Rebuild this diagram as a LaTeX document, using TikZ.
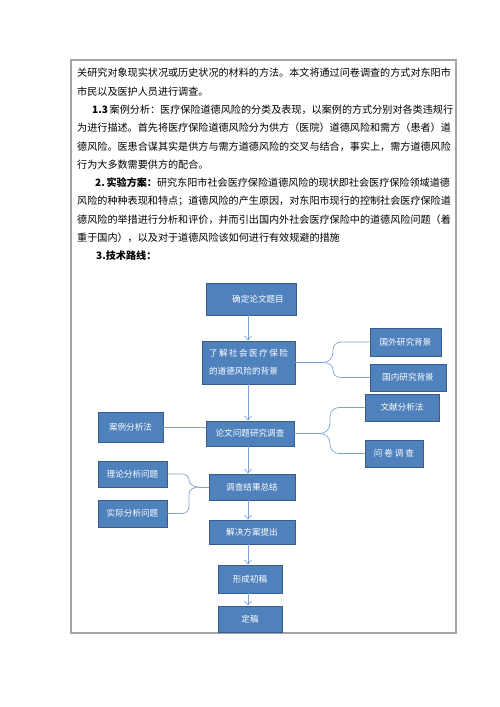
\documentclass[tikz,border=0pt]{standalone}
\usepackage{fontspec}
\newfontfamily\cjk{Noto Sans CJK SC}
\usepackage{tikz}
\usetikzlibrary{arrows.meta}

\definecolor{boxblue}{RGB}{79,129,189}
\definecolor{boxedge}{RGB}{56,93,138}
\definecolor{linkblue}{RGB}{125,163,212}
\definecolor{framegray}{RGB}{165,165,165}

\tikzset{
  bodyline/.style={anchor=base west, inner sep=0pt, font=\cjk\fontsize{10.1}{18}\selectfont},
  flowbox/.style={draw=boxedge, line width=0.8pt, fill=boxblue, text=white, inner sep=1pt, font=\cjk\fontsize{8.6}{18}\selectfont},
  link/.style={draw=linkblue, line width=0.7pt},
  flowarrow/.style={link, -{Straight Barb[length=4pt,width=7pt]}}
}

\begin{document}
\begin{tikzpicture}[x=1pt,y=-1pt]
            \useasboundingbox (0,0) rectangle (500,707);
            \draw[framegray, line width=1.2pt] (71,60) rectangle (456,633);
            % text above the chart
            \node[bodyline] (line1) at (77,76.8) {关研究对象现实状况或历史状况的材料的方法。本文将通过问卷调查的方式对东阳市};
            \node[bodyline] (line2) at (77,95.1) {市民以及医护人员进行调查。};
            \node[bodyline] (line3) at (92,113.4) {\textbf{1.3}\,案例分析：医疗保险道德风险的分类及表现，以案例的方式分别对各类违规行};
            \node[bodyline] (line4) at (77,131.7) {为进行描述。首先将医疗保险道德风险分为供方（医院）道德风险和需方（患者）道};
            \node[bodyline] (line5) at (77,150) {德风险。医患合谋其实是供方与需方道德风险的交叉与结合，事实上，需方道德风险};
            \node[bodyline] (line6) at (77,168.3) {行为大多数需要供方的配合。};
            \node[bodyline] (line7) at (95,186.6) {\textbf{2.\,实验方案：}研究东阳市社会医疗保险道德风险的现状即社会医疗保险领域道德};
            \node[bodyline] (line8) at (77,204.9) {风险的种种表现和特点；道德风险的产生原因，对东阳市现行的控制社会医疗保险道};
            \node[bodyline] (line9) at (77,223.2) {德风险的举措进行分析和评价，并而引出国内外社会医疗保险中的道德风险问题（着};
            \node[bodyline] (line10) at (77,241.5) {重于国内），以及对于道德风险该如何进行有效规避的措施};
            \node[bodyline] (line11) at (96,259.8) {\textbf{3.技术路线：}};
            % flow chart
            \coordinate (spine) at (248,0);
            \node[flowbox, minimum width=90pt, minimum height=32pt] (topic) at (251,299) {\hspace{14pt}确定论文题目};
            \node[flowbox, minimum width=93pt, minimum height=43pt, align=left] (background) at (248.5,362.5) {了\,解\,社\,会\,医\,疗\,保\,险\\的道德风险的背景};
            \node[flowbox, minimum width=71pt, minimum height=28pt] (abroad) at (405.5,342) {国外研究背景};
            \node[flowbox, minimum width=76pt, minimum height=27pt] (domestic) at (408,377.5) {国内研究背景};
            \node[flowbox, minimum width=74pt, minimum height=27pt] (literature) at (402,407.5) {文献分析法};
            \node[flowbox, minimum width=88pt, minimum height=25pt] (survey) at (250,433.5) {论文问题研究调查};
            \node[flowbox, minimum width=65pt, minimum height=30pt] (cases) at (130.5,427) {案例分析法};
            \node[flowbox, minimum width=58pt, minimum height=27pt] (questionnaire) at (394,453.5) {问\ 卷\ 调\ 查};
            \node[flowbox, minimum width=69pt, minimum height=26pt] (theory) at (132.5,474) {理论分析问题};
            \node[flowbox, minimum width=86pt, minimum height=26pt] (summary) at (252,487) {调查结果总结};
            \node[flowbox, minimum width=69pt, minimum height=27pt] (practice) at (132.5,513.5) {实际分析问题};
            \node[flowbox, minimum width=86pt, minimum height=24pt] (solution) at (252,532) {解决方案提出};
            \node[flowbox, minimum width=64pt, minimum height=28pt] (draft) at (250,579) {形成初稿};
            \node[flowbox, minimum width=64pt, minimum height=26pt] (final) at (250,619) {定稿};
            % main arrows
            \draw[flowarrow] (topic.south -| spine) -- (background.north -| spine);
            \draw[flowarrow] (background.south -| spine) -- (survey.north -| spine);
            \draw[flowarrow] (survey.south -| spine) -- (summary.north -| spine);
            \draw[flowarrow] (summary.south -| spine) -- (solution.north -| spine);
            \draw[flowarrow] (solution.south -| spine) -- (draft.north -| spine);
            \draw[flowarrow] (draft.south -| spine) -- (final.north -| spine);
            % braces
            \coordinate (forkA) at (323,362.5);
            \draw[link] (background.east) -- (forkA);
            \draw[link] (forkA) to[out=0,in=-90] ++(10,-10) -- ++(0,-3) to[out=90,in=180] ++(8,-7.5) -- (abroad.west);
            \draw[link] (forkA) to[out=0,in=90] ++(10,7) -- ++(0,1) to[out=-90,in=180] ++(8,7) -- (domestic.west);
            \coordinate (forkB) at (320,433.5);
            \draw[link] (survey.east) -- (forkB);
            \draw[link] (forkB) to[out=0,in=-90] ++(10,-10) -- ++(0,-7) to[out=90,in=180] ++(9,-9) -- (literature.west);
            \draw[link] (forkB) to[out=0,in=90] ++(10,10) -- ++(0,1) to[out=-90,in=180] ++(9,9) -- (questionnaire.west);
            \coordinate (forkC) at (199,487);
            \draw[link] (summary.west) -- (forkC);
            \draw[link] (forkC) to[out=180,in=-90] ++(-10,-7) to[out=90,in=0] ++(-7,-6) -- (theory.east);
            \draw[link] (forkC) to[out=180,in=90] ++(-10,7) -- ++(0,12.5) to[out=-90,in=0] ++(-7,7) -- (practice.east);
            \draw[link] (cases.east) -- (cases.east -| survey.west);
        \end{tikzpicture}
\end{document}
